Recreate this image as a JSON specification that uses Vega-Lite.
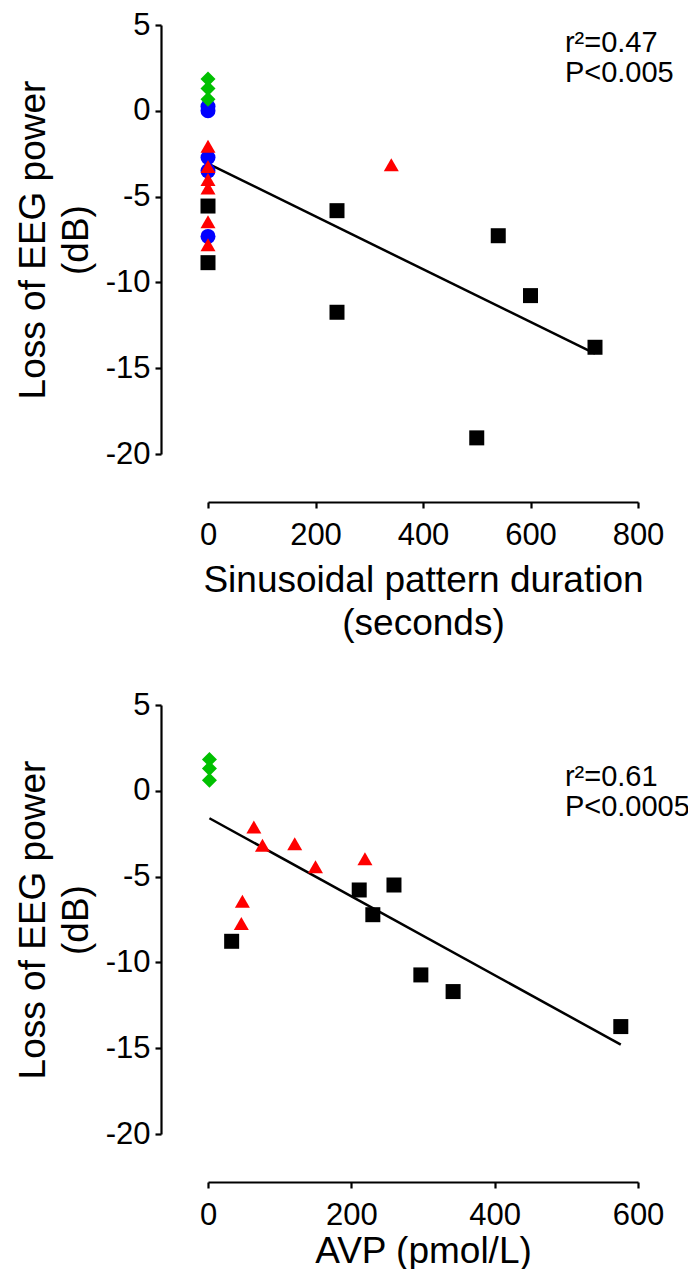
{
  "$schema": "https://vega.github.io/schema/vega-lite/v6.json",
  "background": "white",
  "padding": {"left": 14, "top": 9, "right": 0, "bottom": 0},
  "spacing": 48,
  "config": {
    "view": {"stroke": null},
    "font": "Liberation Sans",
    "axis": {
      "grid": false,
      "domainColor": "black",
      "domainWidth": 2.2,
      "tickColor": "black",
      "tickWidth": 2.2,
      "tickSize": 6,
      "labelFont": "Liberation Sans",
      "labelFontSize": 31,
      "labelColor": "black",
      "labelFlush": false,
      "labelOverlap": false,
      "labelExpr": "'' + datum.value",
      "titleFont": "Liberation Sans",
      "titleFontSize": 37,
      "titleFontWeight": "normal",
      "titleColor": "black",
      "titleLineHeight": 43
    },
    "axisX": {"labelPadding": 12, "offset": 48, "titlePadding": 12},
    "axisY": {"labelPadding": 5, "offset": 47, "titlePadding": 10}
  },
  "vconcat": [
    {
      "width": 430,
      "height": 429,
      "layer": [
        {
          "data": {"values": [{"dur": 0, "loss": -3.08}, {"dur": 720, "loss": -14.15}]},
          "mark": {"type": "line", "color": "black", "strokeWidth": 2.5},
          "encoding": {
            "x": {"field": "dur", "type": "quantitative", "scale": {"domain": [0, 800], "nice": false}, "axis": {"values": [0, 200, 400, 600, 800], "title": ["Sinusoidal pattern duration", "(seconds)"]}},
            "y": {"field": "loss", "type": "quantitative", "scale": {"domain": [-20, 5], "nice": false, "zero": false}, "axis": {"values": [-20, -15, -10, -5, 0, 5], "title": ["Loss of EEG power", "(dB)"]}}
          }
        },
        {
          "data": {"values": [
            {"group": "blue", "dur": 0, "loss": 0.25},
            {"group": "blue", "dur": 0, "loss": 0.0},
            {"group": "blue", "dur": 0, "loss": -2.72},
            {"group": "blue", "dur": 0, "loss": -3.5},
            {"group": "blue", "dur": 0, "loss": -7.32},
            {"group": "red", "dur": 0, "loss": -2.07},
            {"group": "red", "dur": 0, "loss": -3.24},
            {"group": "red", "dur": 0, "loss": -4.0},
            {"group": "red", "dur": 0, "loss": -4.5},
            {"group": "red", "dur": 0, "loss": -6.46},
            {"group": "red", "dur": 0, "loss": -7.8},
            {"group": "red", "dur": 341, "loss": -3.14},
            {"group": "green", "dur": 0, "loss": 1.85},
            {"group": "green", "dur": 0, "loss": 1.3},
            {"group": "green", "dur": 0, "loss": 0.68},
            {"group": "black", "dur": 0, "loss": -5.55},
            {"group": "black", "dur": 0, "loss": -8.85},
            {"group": "black", "dur": 240, "loss": -5.82},
            {"group": "black", "dur": 240, "loss": -11.74},
            {"group": "black", "dur": 500, "loss": -19.06},
            {"group": "black", "dur": 540, "loss": -7.28},
            {"group": "black", "dur": 600, "loss": -10.77},
            {"group": "black", "dur": 720, "loss": -13.78}
          ]},
          "mark": {"type": "point", "filled": true, "size": 225, "opacity": 1},
          "encoding": {
            "x": {"field": "dur", "type": "quantitative"},
            "y": {"field": "loss", "type": "quantitative"},
            "shape": {"field": "group", "type": "nominal", "scale": {"domain": ["blue", "red", "green", "black"], "range": ["circle", "triangle-up", "diamond", "square"]}, "legend": null},
            "color": {"field": "group", "type": "nominal", "scale": {"domain": ["blue", "red", "green", "black"], "range": ["#0000ff", "#ff0000", "#00c000", "#000000"]}, "legend": null}
          }
        },
        {
          "data": {"values": [{"label": "r²=0.47\nP<0.005"}]},
          "mark": {"type": "text", "align": "left", "baseline": "alphabetic", "fontSize": 29, "lineHeight": 30, "lineBreak": "\n", "color": "black"},
          "encoding": {
            "text": {"field": "label"},
            "x": {"datum": 664},
            "y": {"datum": 3.42}
          }
        }
      ]
    },
    {
      "width": 430,
      "height": 429,
      "layer": [
        {
          "data": {"values": [{"avp": 2, "loss": -1.6}, {"avp": 576, "loss": -14.79}]},
          "mark": {"type": "line", "color": "black", "strokeWidth": 2.5},
          "encoding": {
            "x": {"field": "avp", "type": "quantitative", "scale": {"domain": [0, 600], "nice": false}, "axis": {"values": [0, 200, 400, 600], "title": "AVP (pmol/L)", "titlePadding": 3}},
            "y": {"field": "loss", "type": "quantitative", "scale": {"domain": [-20, 5], "nice": false, "zero": false}, "axis": {"values": [-20, -15, -10, -5, 0, 5], "title": ["Loss of EEG power", "(dB)"]}}
          }
        },
        {
          "data": {"values": [
            {"group": "red", "avp": 64, "loss": -2.11},
            {"group": "red", "avp": 76, "loss": -3.18},
            {"group": "red", "avp": 121, "loss": -3.09},
            {"group": "red", "avp": 150, "loss": -4.42},
            {"group": "red", "avp": 219, "loss": -3.96},
            {"group": "red", "avp": 48, "loss": -6.44},
            {"group": "red", "avp": 46.5, "loss": -7.74},
            {"group": "green", "avp": 2, "loss": 1.83},
            {"group": "green", "avp": 2, "loss": 1.3},
            {"group": "green", "avp": 2, "loss": 0.62},
            {"group": "black", "avp": 33, "loss": -8.77},
            {"group": "black", "avp": 211, "loss": -5.78},
            {"group": "black", "avp": 259.5, "loss": -5.49},
            {"group": "black", "avp": 230, "loss": -7.22},
            {"group": "black", "avp": 297, "loss": -10.73},
            {"group": "black", "avp": 342, "loss": -11.7},
            {"group": "black", "avp": 576, "loss": -13.74}
          ]},
          "mark": {"type": "point", "filled": true, "size": 225, "opacity": 1},
          "encoding": {
            "x": {"field": "avp", "type": "quantitative"},
            "y": {"field": "loss", "type": "quantitative"},
            "shape": {"field": "group", "type": "nominal", "scale": {"domain": ["blue", "red", "green", "black"], "range": ["circle", "triangle-up", "diamond", "square"]}, "legend": null},
            "color": {"field": "group", "type": "nominal", "scale": {"domain": ["blue", "red", "green", "black"], "range": ["#0000ff", "#ff0000", "#00c000", "#000000"]}, "legend": null}
          }
        },
        {
          "data": {"values": [{"label": "r²=0.61\nP<0.0005"}]},
          "mark": {"type": "text", "align": "left", "baseline": "alphabetic", "fontSize": 29, "lineHeight": 30, "lineBreak": "\n", "color": "black"},
          "encoding": {
            "text": {"field": "label"},
            "x": {"datum": 498},
            "y": {"datum": 0.27}
          }
        }
      ]
    }
  ]
}
